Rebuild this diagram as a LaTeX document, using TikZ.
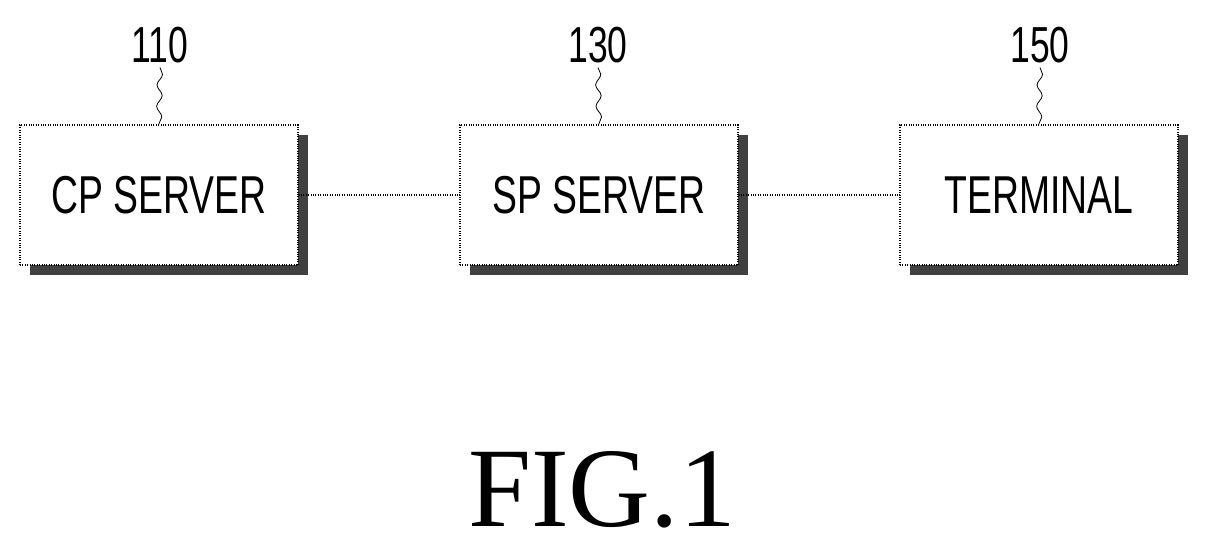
\documentclass[tikz,border=0pt]{standalone}
\usepackage{fontspec}
\setmainfont{Liberation Sans}
\newfontfamily\figfont{Liberation Serif}
\usetikzlibrary{positioning,decorations.pathmorphing}
\tikzset{
  unit/.style={draw,line width=0.8pt,densely dotted,fill=white,minimum width=278*0.75pt,minimum height=140*0.75pt,
    font=\fontsize{40}{40}\selectfont,inner sep=0pt},
  shade/.style={fill=black!75,minimum width=278*0.75pt,minimum height=140*0.75pt,inner sep=0pt},
  ref/.style={font=\fontsize{38}{38}\selectfont},
  link/.style={line width=0.8pt,densely dotted},
  squig/.style={line width=0.6pt,decorate,decoration={snake,amplitude=2pt,segment length=16pt}}
}
\begin{document}
\begin{tikzpicture}[x=0.75pt,y=-0.75pt]
\useasboundingbox (0,0) rectangle (1209,552);

\node[shade] at (169,205) {};
\node[shade] at (609,205) {};
\node[shade] at (1049,205) {};

\node[unit] (cp) at (159,195) {\scalebox{0.7}[1]{CP SERVER}};
\node[unit] (sp) at (599,195) {\scalebox{0.7}[1]{SP SERVER}};
\node[unit] (term) at (1039,195) {\scalebox{0.7}[1]{TERMINAL}};

\node[ref] (l110) at (160,45) {\scalebox{0.7}[1]{110}};
\node[ref] (l130) at (598,45) {\scalebox{0.7}[1]{130}};
\node[ref] (l150) at (1040,45) {\scalebox{0.7}[1]{150}};

\draw[squig] (l110.south) -- (cp.north);
\draw[squig] (l130.south) -- (sp.north);
\draw[squig] (l150.south) -- (term.north);

\draw[link] (cp) -- (sp);
\draw[link] (sp) -- (term);

\node[font=\figfont\fontsize{85}{85}\selectfont] (fig) at (602,490) {FIG.1};
\end{tikzpicture}
\end{document}
